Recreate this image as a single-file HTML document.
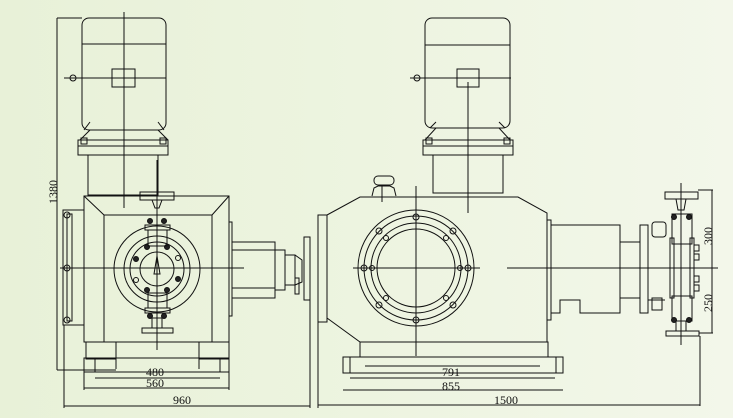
<!DOCTYPE html>
<html><head><meta charset="utf-8"><style>
html,body{margin:0;padding:0;}
body{width:733px;height:418px;overflow:hidden;background:linear-gradient(90deg,#e8f1d8 0%,#edf4e0 50%,#f3f7ea 100%);}
svg{display:block}
text{font-family:"Liberation Serif",serif;font-size:12px;fill:#111;}
</style></head><body>
<svg width="733" height="418" viewBox="0 0 733 418" xmlns="http://www.w3.org/2000/svg">
<g fill="none" stroke="#111" stroke-width="1">
<!-- ===== LEFT VIEW ===== -->
<!-- motor -->
<rect x="82" y="18" width="84" height="112" rx="7"/>
<line x1="82" y1="44" x2="166" y2="44"/>
<rect x="112" y="69" width="23" height="18"/>
<line x1="64" y1="78" x2="166" y2="78"/>
<circle cx="73" cy="78" r="3"/>
<line x1="124" y1="12" x2="124" y2="208"/>
<path d="M84 130 L90 122 M164 130 L158 122"/>
<path d="M90 130 L80 140 M158 130 L168 140"/>
<rect x="78" y="140" width="90" height="15"/>
<line x1="78" y1="146" x2="168" y2="146"/>
<rect x="81" y="138" width="6" height="6"/>
<rect x="160" y="138" width="6" height="6"/>
<rect x="88" y="155" width="70" height="40"/>
<line x1="157" y1="160" x2="157" y2="350"/>
<!-- box -->
<rect x="84" y="196" width="145" height="146"/>
<rect x="104" y="215" width="108" height="127"/>
<path d="M84 196 L104 215 M229 196 L212 215"/>
<rect x="229" y="222" width="3" height="94"/>
<rect x="63" y="210" width="21" height="115"/>
<rect x="67" y="214" width="5" height="107"/>
<circle cx="67" cy="215" r="3"/><circle cx="67" cy="268" r="3"/><circle cx="67" cy="320" r="3"/>
<line x1="60" y1="268" x2="244" y2="268"/>
<!-- circles -->
<circle cx="157" cy="269" r="43"/>
<circle cx="157" cy="269" r="33"/>
<circle cx="157" cy="269" r="27"/>
<circle cx="157" cy="269" r="17"/>
<g fill="#222">
<circle cx="147" cy="247" r="2.5"/><circle cx="167" cy="247" r="2.5"/>
<circle cx="136" cy="259" r="2.5"/><circle cx="178" cy="279" r="2.5"/>
<circle cx="147" cy="290" r="2.5"/><circle cx="167" cy="290" r="2.5"/>
</g>
<circle cx="136" cy="280" r="2.5"/><circle cx="178" cy="258" r="2.5"/>
<path d="M157 256 L154 274 L160 274 Z"/>
<!-- valves -->
<rect x="140" y="192" width="34" height="8"/>
<path d="M152 200 L155 208 L159 208 L162 200"/>
<rect x="145" y="225" width="25" height="5"/>
<rect x="148" y="230" width="19" height="16"/>
<circle cx="150" cy="221" r="2.5" fill="#222"/><circle cx="164" cy="221" r="2.5" fill="#222"/>
<rect x="145" y="308" width="25" height="5"/>
<rect x="148" y="293" width="19" height="15"/>
<circle cx="150" cy="316" r="2.5" fill="#222"/><circle cx="164" cy="316" r="2.5" fill="#222"/>
<rect x="152" y="318" width="10" height="10"/>
<rect x="142" y="328" width="31" height="5"/>
<!-- shaft right -->
<rect x="232" y="242" width="43" height="56"/>
<line x1="232" y1="250" x2="275" y2="250"/>
<line x1="232" y1="288" x2="275" y2="288"/>
<rect x="275" y="250" width="10" height="40"/>
<rect x="285" y="255" width="10" height="30"/>
<path d="M295 255 L302 260 L302 282 L295 285"/>
<rect x="304" y="237" width="6" height="63"/>
<rect x="295" y="278" width="4" height="16"/>
<!-- feet -->
<rect x="86" y="342" width="30" height="17"/>
<rect x="199" y="342" width="30" height="17"/>
<rect x="84" y="358" width="145" height="14"/>
<path d="M95 358 L95 372 M116 358 L116 369 M199 358 L199 369 M220 358 L220 372"/>
<!-- dims left -->
<line x1="57" y1="18" x2="82" y2="18"/>
<line x1="57" y1="18" x2="57" y2="370"/>
<line x1="57" y1="370" x2="116" y2="370"/>
<line x1="95" y1="378" x2="220" y2="378"/>
<line x1="84" y1="372" x2="84" y2="390"/><line x1="229" y1="372" x2="229" y2="390"/>
<line x1="84" y1="388" x2="229" y2="388"/>
<line x1="64" y1="325" x2="64" y2="408"/>
<line x1="310" y1="300" x2="310" y2="408"/>
<line x1="64" y1="406" x2="310" y2="406"/>

<!-- ===== RIGHT VIEW ===== -->
<rect x="425" y="18" width="85" height="110" rx="7"/>
<line x1="425" y1="45" x2="510" y2="45"/>
<rect x="457" y="69" width="22" height="18"/>
<line x1="410" y1="78" x2="511" y2="78"/>
<circle cx="417" cy="78" r="3"/>
<line x1="468" y1="82" x2="468" y2="213"/>
<path d="M430 128 L436 122 M505 128 L499 122"/>
<path d="M436 128 L425 140 M499 128 L510 140"/>
<rect x="423" y="140" width="90" height="15"/>
<line x1="423" y1="146" x2="513" y2="146"/>
<rect x="426" y="138" width="6" height="6"/><rect x="504" y="138" width="6" height="6"/>
<rect x="433" y="155" width="70" height="38"/>
<!-- body -->
<path d="M327 215 L360 197 L518 197 L547 213 L547 342 L360 342 L327 318 Z"/>
<rect x="318" y="215" width="9" height="107"/>
<rect x="547" y="220" width="4" height="100"/>
<path d="M372 196 L374 188 L378 186 L390 186 L394 188 L396 196"/>
<rect x="374" y="176" width="20" height="9" rx="4"/>
<line x1="382" y1="185" x2="382" y2="202"/>
<circle cx="416" cy="268" r="58"/>
<circle cx="416" cy="268" r="52"/>
<circle cx="416" cy="268" r="45"/>
<circle cx="416" cy="268" r="39"/>
<line x1="416" y1="186" x2="416" y2="356"/>
<line x1="353" y1="268" x2="480" y2="268"/>
<line x1="507" y1="268" x2="718" y2="268"/>
<g>
<circle cx="416" cy="217" r="3"/><circle cx="416" cy="320" r="3"/>
<circle cx="364" cy="268" r="3"/><circle cx="468" cy="268" r="3"/>
<circle cx="379" cy="231" r="3"/><circle cx="453" cy="231" r="3"/>
<circle cx="379" cy="305" r="3"/><circle cx="453" cy="305" r="3"/>
<circle cx="386" cy="238" r="2.5"/><circle cx="446" cy="238" r="2.5"/>
<circle cx="386" cy="298" r="2.5"/><circle cx="446" cy="298" r="2.5"/>
<circle cx="372" cy="268" r="2.5"/><circle cx="460" cy="268" r="2.5"/>
</g>
<rect x="360" y="342" width="188" height="15"/>
<rect x="343" y="357" width="220" height="16"/>
<path d="M350 357 L350 373 M556 357 L556 373 M365 366 L540 366"/>
<!-- shaft -->
<path d="M551 225 L620 225 L620 313 L580 313 L580 300 L560 300 L560 313 L551 313"/>
<line x1="620" y1="242" x2="640" y2="242"/>
<line x1="620" y1="298" x2="640" y2="298"/>
<rect x="640" y="225" width="8" height="88"/>
<!-- valve assembly -->
<rect x="665" y="192" width="33" height="7"/>
<line x1="681" y1="183" x2="681" y2="345"/>
<path d="M676 199 L678 210 L684 210 L686 199"/>
<rect x="672" y="214" width="20" height="30"/>
<rect x="670" y="238" width="4" height="60"/>
<rect x="690" y="238" width="4" height="60"/>
<rect x="672" y="296" width="20" height="25"/>
<rect x="676" y="321" width="10" height="10"/>
<rect x="666" y="331" width="33" height="5"/>
<rect x="652" y="222" width="14" height="15" rx="3"/>
<rect x="652" y="298" width="10" height="12"/>
<circle cx="674" cy="217" r="2.5" fill="#222"/><circle cx="689" cy="217" r="2.5" fill="#222"/>
<circle cx="674" cy="320" r="2.5" fill="#222"/><circle cx="689" cy="320" r="2.5" fill="#222"/>
<rect x="694" y="245" width="5" height="6"/><rect x="694" y="254" width="5" height="6"/>
<rect x="694" y="276" width="5" height="6"/><rect x="694" y="285" width="5" height="6"/>
<line x1="648" y1="300" x2="665" y2="300"/>
<!-- dims right -->
<line x1="698" y1="190" x2="713" y2="190"/>
<line x1="712" y1="190" x2="712" y2="333"/>
<line x1="699" y1="333" x2="713" y2="333"/>
<line x1="350" y1="378" x2="555" y2="378"/>
<line x1="343" y1="390" x2="563" y2="390"/>
<line x1="318" y1="322" x2="318" y2="408"/>
<line x1="700" y1="336" x2="700" y2="406"/>
<line x1="318" y1="405" x2="700" y2="405"/>
</g>
<g>
<text x="146" y="376">480</text>
<text x="146" y="387">560</text>
<text x="173" y="404">960</text>
<text x="0" y="0" transform="translate(57,204) rotate(-90)">1380</text>
<text x="442" y="376">791</text>
<text x="442" y="390">855</text>
<text x="494" y="404">1500</text>
<text x="0" y="0" transform="translate(712,245) rotate(-90)">300</text>
<text x="0" y="0" transform="translate(712,312) rotate(-90)">250</text>
</g>
</svg>
</body></html>
